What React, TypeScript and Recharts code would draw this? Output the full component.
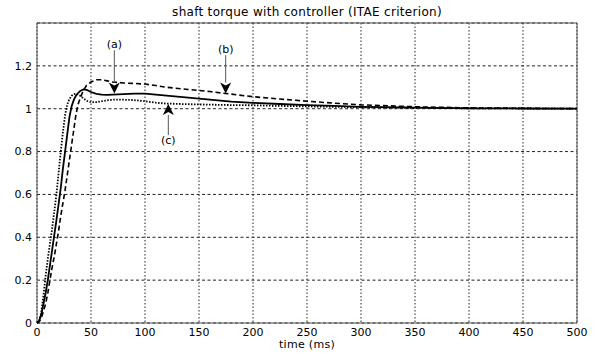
import React from 'react';
import {
  LineChart,
  Line,
  XAxis,
  YAxis,
  CartesianGrid,
  ReferenceArea,
  ReferenceLine,
  ReferenceDot,
} from 'recharts';

// time axis (ms)
const time = [
  0, 2, 4, 6, 8, 10, 12, 14, 16, 18, 20, 22, 24, 26, 28, 30, 32, 34, 36, 38, 40, 43, 46, 50, 55, 60, 65,
  70, 80, 90, 100, 110, 120, 140, 160, 180, 200, 225, 250, 275, 300, 350, 400, 450, 500,
];

// (a) solid
const curveA = [
  0, 0.01, 0.04, 0.09, 0.14, 0.2, 0.27, 0.34, 0.41, 0.48, 0.555, 0.63, 0.72, 0.8, 0.88, 0.96, 1.01, 1.04,
  1.06, 1.073, 1.083, 1.09, 1.088, 1.078, 1.069, 1.066, 1.065, 1.066, 1.068, 1.07, 1.07, 1.066, 1.061,
  1.052, 1.042, 1.033, 1.027, 1.022, 1.017, 1.013, 1.009, 1.005, 1.002, 1.001, 1.0,
];

// (b) dashed
const curveB = [
  0, 0.005, 0.025, 0.055, 0.09, 0.14, 0.2, 0.26, 0.31, 0.37, 0.43, 0.5, 0.56, 0.62, 0.69, 0.76, 0.83, 0.9,
  0.97, 1.02, 1.05, 1.085, 1.11, 1.125, 1.135, 1.135, 1.13, 1.125, 1.12, 1.118, 1.115, 1.108, 1.1, 1.09,
  1.08, 1.068, 1.056, 1.045, 1.035, 1.026, 1.018, 1.009, 1.004, 1.002, 1.0,
];

// (c) dotted
const curveC = [
  0, 0.01, 0.05, 0.13, 0.22, 0.3, 0.37, 0.44, 0.52, 0.6, 0.7, 0.8, 0.89, 0.97, 1.02, 1.045, 1.06, 1.068,
  1.07, 1.067, 1.06, 1.048, 1.037, 1.03, 1.031, 1.035, 1.039, 1.042, 1.042, 1.04, 1.035, 1.028, 1.024,
  1.021, 1.019, 1.017, 1.016, 1.013, 1.011, 1.009, 1.007, 1.004, 1.002, 1.001, 1.0,
];

const xTicks = [0, 50, 100, 150, 200, 250, 300, 350, 400, 450, 500];
const yTicks = [0, 0.2, 0.4, 0.6, 0.8, 1, 1.2];

// arrow annotations
const annLabels = ['(a)', '(b)', '(c)'];
const annX = [71.6, 174.7, 121.6];
const annFrom = [1.273, 1.25, 0.877];
const annTo = [1.071, 1.071, 1.022];
const annTextY = [1.3, 1.278, 0.851];

const data = time.map((t, i) => ({ t, a: curveA[i], b: curveB[i], c: curveC[i] }));

const font = '"DejaVu Sans", sans-serif';

const Arrow = (props: any) => {
  const { x1, y1, x2, y2 } = props;
  const dir = y2 > y1 ? 1 : -1;
  const len = 11;
  const hw = 5.5;
  return (
    <g>
      <line x1={x1} y1={y1} x2={x2} y2={y2 - dir * len} stroke="#555" strokeWidth={1} />
      <polygon
        points={`${x2},${y2} ${x2 - hw},${y2 - dir * len} ${x2},${y2 - dir * (len - 3)} ${x2 + hw},${y2 - dir * len}`}
        fill="#000"
      />
    </g>
  );
};

export default function App() {
  return (
    <div style={{ position: 'absolute', left: 0, top: 0, width: 596, height: 354, background: '#fff', fontFamily: font }}>
      <div style={{ position: 'absolute', left: 37, width: 540, top: 5, textAlign: 'center', fontSize: 12, letterSpacing: 0.3, lineHeight: '14px', color: '#000' }}>
        shaft torque with controller (ITAE criterion)
      </div>
      <div style={{ position: 'absolute', left: 37, width: 540, top: 338, textAlign: 'center', fontSize: 11, letterSpacing: 0.3, lineHeight: '14px', color: '#000' }}>
        time (ms)
      </div>
      <LineChart width={596} height={354} data={data} margin={{ top: 23, right: 19, left: 0, bottom: 0 }}>
        <CartesianGrid vertical={false} stroke="#222" strokeDasharray="3 2.5" />
        <CartesianGrid horizontal={false} stroke="#222" strokeDasharray="1.5 2" />
        <XAxis
          type="number"
          dataKey="t"
          domain={[0, 500]}
          ticks={xTicks}
          interval={0}
          height={31}
          axisLine={false}
          tickLine={false}
          tickSize={0}
          tickMargin={5}
          tick={{ fontSize: 11, fill: '#000', fontFamily: font }}
        />
        <YAxis
          type="number"
          domain={[0, 1.4]}
          ticks={yTicks}
          interval={0}
          width={37}
          axisLine={false}
          tickLine={false}
          tickSize={0}
          tickMargin={5}
          tickFormatter={(v) => String(v)}
          tick={{ fontSize: 11, fill: '#000', fontFamily: font }}
        />
        <ReferenceArea x1={0} x2={500} y1={0} y2={1.4} fill="none" stroke="#555" strokeWidth={1} />
        <Line dataKey="b" type="linear" stroke="#000" strokeWidth={1.6} strokeDasharray="5 3" dot={false} isAnimationActive={false} />
        <Line dataKey="c" type="linear" stroke="#000" strokeWidth={1.8} strokeDasharray="1.5 1.5" dot={false} isAnimationActive={false} />
        <Line dataKey="a" type="linear" stroke="#000" strokeWidth={1.8} dot={false} isAnimationActive={false} />
        {annLabels.map((lab, i) => (
          <ReferenceLine
            key={'arr' + lab}
            segment={[
              { x: annX[i], y: annFrom[i] },
              { x: annX[i], y: annTo[i] },
            ]}
            shape={Arrow}
          />
        ))}
        {annLabels.map((lab, i) => (
          <ReferenceDot
            key={'lab' + lab}
            x={annX[i]}
            y={annTextY[i]}
            r={0}
            shape={(p: any) => (
              <text x={p.cx} y={p.cy} textAnchor="middle" dominantBaseline="central" fontSize={11} fontFamily={font} fill="#000">
                {lab}
              </text>
            )}
          />
        ))}
      </LineChart>
    </div>
  );
}
